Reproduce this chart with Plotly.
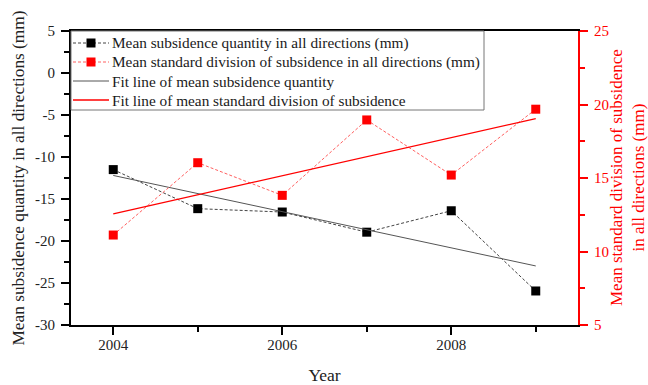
import numpy as np
import plotly.graph_objects as go

years = [2004, 2005, 2006, 2007, 2008, 2009]
mean_subsidence = [-11.5, -16.15, -16.55, -18.95, -16.4, -25.95]
mean_std = [11.12, 16.04, 13.82, 18.95, 15.2, 19.68]

left_ticks = [5, 0, -5, -10, -15, -20, -25, -30]
left_tick_labels = ["5", "0", "-5", "-10", "-15", "-20", "-25", "-30"]
right_ticks = [5, 10, 15, 20, 25]
x_ticks = [2004, 2006, 2008]

names = ["Mean subsidence quantity in all directions (mm)",
         "Mean standard division of subsidence in all directions (mm)",
         "Fit line of mean subsidence quantity",
         "Fit line of mean standard division of subsidence"]
right_title = "Mean standard division of subsidence<br>in all directions (mm)"

FONT = "Liberation Serif, Times New Roman, serif"
BLACK_LINE = "#444444"
RED_LINE = "#ff6060"
DASH = "3px,2px"

W, H = 648, 385
ML, MR, MT, MB = 71, 70, 31, 60
PW, PH = W - ML - MR, H - MT - MB


def px(x):
    return (x - ML) / PW


def py(y):
    return (H - MB - y) / PH


x = np.array(years, dtype=float)
p1 = np.polyfit(x, mean_subsidence, 1)
p2 = np.polyfit(x, mean_std, 1)
fx = [years[0], years[-1]]

fig = go.Figure()
fig.add_trace(go.Scatter(x=years, y=mean_subsidence, name=names[0], mode="lines+markers",
                         line=dict(color=BLACK_LINE, width=1, dash=DASH),
                         marker=dict(symbol="square", size=9, color="black")))
fig.add_trace(go.Scatter(x=years, y=mean_std, name=names[1], mode="lines+markers", yaxis="y2",
                         line=dict(color=RED_LINE, width=1, dash=DASH),
                         marker=dict(symbol="square", size=9, color="red")))
fig.add_trace(go.Scatter(x=fx, y=list(np.polyval(p1, fx)), name=names[2], mode="lines",
                         line=dict(color="#555555", width=1)))
fig.add_trace(go.Scatter(x=fx, y=list(np.polyval(p2, fx)), name=names[3], mode="lines", yaxis="y2",
                         line=dict(color="red", width=1.3)))

# legend drawn in paper coordinates (box, symbols, labels)
shapes = [dict(type="rect", xref="paper", yref="paper", x0=px(71), x1=px(484),
               y0=py(110), y1=py(31), line=dict(color="#777777", width=1),
               fillcolor="white", layer="above")]
annotations = []
legend_styles = [
    (BLACK_LINE, DASH, 1, "black"),
    (RED_LINE, DASH, 1, "red"),
    ("#555555", "solid", 1, None),
    ("red", "solid", 1.3, None),
]
row_y = [43, 62, 81, 100]
for (lc, ld, lw, mc), name, ry in zip(legend_styles, names, row_y):
    shapes.append(dict(type="line", xref="paper", yref="paper", x0=px(73), x1=px(109),
                       y0=py(ry), y1=py(ry), line=dict(color=lc, width=lw, dash=ld),
                       layer="above"))
    if mc:
        shapes.append(dict(type="rect", xref="paper", yref="paper", x0=px(86.5), x1=px(95.5),
                           y0=py(ry + 4.5), y1=py(ry - 4.5), line=dict(width=0),
                           fillcolor=mc, layer="above"))
    annotations.append(dict(text=name, xref="paper", yref="paper", x=px(110), y=py(ry),
                            xanchor="left", yanchor="middle", showarrow=False,
                            font=dict(family=FONT, size=15.3, color="#1a1a1a")))

# right axis title
annotations.append(dict(text=right_title, xref="paper", yref="paper", x=px(627), y=py(178),
                        xanchor="center", yanchor="middle", showarrow=False, textangle=-90,
                        font=dict(family=FONT, size=17, color="red")))

fig.update_layout(
    width=W, height=H,
    margin=dict(l=ML, r=MR, t=MT, b=MB, autoexpand=False),
    paper_bgcolor="white", plot_bgcolor="white",
    font=dict(family=FONT, size=15, color="#222222"),
    showlegend=False,
    shapes=shapes, annotations=annotations,
    xaxis=dict(range=[2003.5, 2009.5], tickvals=x_ticks, ticks="outside", ticklen=8,
               tickwidth=1.5, tickcolor="black", showline=True, linecolor="black",
               linewidth=2, mirror=True, showgrid=False, zeroline=False,
               ticklabelstandoff=-3, automargin=False,
               minor=dict(dtick=1, tick0=2004, ticks="outside", ticklen=5, tickcolor="black",
                          tickwidth=1.5),
               title=dict(text="Year", font=dict(size=17.5), standoff=28),
               tickfont=dict(size=15)),
    yaxis=dict(range=[-30, 5], tickvals=left_ticks, ticktext=left_tick_labels,
               ticks="outside", ticklen=8, tickwidth=1.5, tickcolor="black",
               showline=True, linecolor="black", linewidth=2, showgrid=False,
               zeroline=False, ticklabelstandoff=3, automargin=False,
               minor=dict(dtick=2.5, tick0=0, ticks="outside", ticklen=5, tickcolor="black",
                          tickwidth=1.5),
               title=dict(text="Mean subsidence quantity in all directions (mm)",
                          font=dict(size=17.3), standoff=6),
               tickfont=dict(size=15)),
    yaxis2=dict(range=[5, 25], tickvals=right_ticks, overlaying="y", side="right",
                ticks="outside", ticklen=8, tickwidth=1.5, tickcolor="red",
                showline=True, linecolor="red", linewidth=2, showgrid=False,
                zeroline=False, ticklabelstandoff=3, automargin=False,
                minor=dict(dtick=2.5, tick0=5, ticks="outside", ticklen=5, tickcolor="red",
                           tickwidth=1.5),
                tickfont=dict(size=15, color="red")),
)

fig.write_html("out.html")
